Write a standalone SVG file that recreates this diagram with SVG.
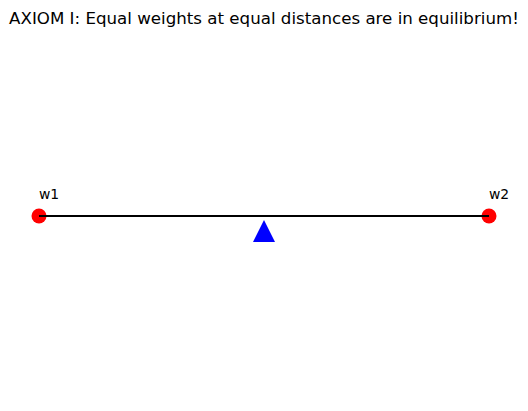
<svg xmlns="http://www.w3.org/2000/svg" width="528" height="411" viewBox="0 0 528 411">
<style>
text{font-family:"DejaVu Sans",sans-serif;fill:#000}
.w{fill:#ff0000}
.lbl{font-size:13.9px}
</style>
<rect width="528" height="411" fill="#fff"/>
<text x="264" y="24" font-size="16.67" text-anchor="middle">AXIOM I: Equal weights at equal distances are in equilibrium!</text>
<g id="w1"><circle class="w" cx="39" cy="216" r="7.5"/><text class="lbl" x="39" y="199">w1</text></g>
<g id="w2"><circle class="w" cx="489" cy="216" r="7.5"/><text class="lbl" x="489" y="199">w2</text></g>
<g id="connectors"><line x1="39" y1="216" x2="489" y2="216" stroke="#000" stroke-width="2"/></g>
<g id="fulcrum"><polygon points="264,220 253,242 275,242" fill="#0000ff"/></g>
</svg>
